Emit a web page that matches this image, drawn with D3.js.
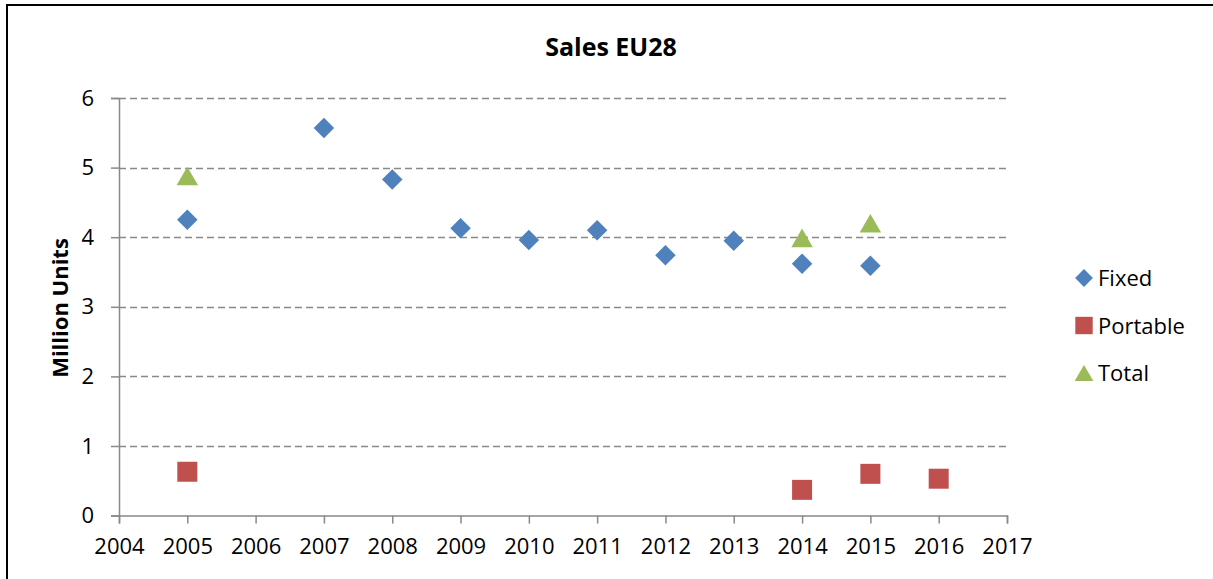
<!DOCTYPE html>
<html>
<head>
<meta charset="utf-8">
<script src="https://cdn.jsdelivr.net/npm/d3@7"></script>
<style>
  html, body { margin: 0; padding: 0; background: #fff; }
  svg { display: block; font-family: "Open Sans", "Liberation Sans", sans-serif; }
</style>
</head>
<body>
<svg id="chart" width="1213" height="579"></svg>
<script>
// ---- data ----
const fixedYears   = [2005, 2007, 2008, 2009, 2010, 2011, 2012, 2013, 2014, 2015];
const fixedValues  = [4.25, 5.57, 4.83, 4.13, 3.96, 4.10, 3.74, 3.95, 3.62, 3.59];
const portableYears  = [2005, 2014, 2015, 2016];
const portableValues = [0.63, 0.37, 0.60, 0.53];
const totalYears   = [2005, 2014, 2015];
const totalValues  = [4.88, 3.99, 4.20];
const xTicks = [2004, 2005, 2006, 2007, 2008, 2009, 2010, 2011, 2012, 2013, 2014, 2015, 2016, 2017];
const yTicks = [0, 1, 2, 3, 4, 5, 6];
const seriesNames = ["Fixed", "Portable", "Total"];
const title = "Sales EU28";
const yTitle = "Million Units";

const colors = { Fixed: "#4F81BD", Portable: "#C0504D", Total: "#9BBB59" };

const svg = d3.select("#chart");

// frame
svg.append("line").attr("x1", 6).attr("x2", 1213).attr("y1", 5).attr("y2", 5)
  .attr("stroke", "#000").attr("stroke-width", 2);
svg.append("line").attr("x1", 7).attr("x2", 7).attr("y1", 4).attr("y2", 579)
  .attr("stroke", "#000").attr("stroke-width", 2);

const x = d3.scaleLinear().domain([2004, 2017]).range([119, 1007]);
const y = d3.scaleLinear().domain([0, 6]).range([515.6, 98]);

// gridlines
svg.append("g").selectAll("line").data(yTicks.filter(d => d > 0)).join("line")
  .attr("x1", x(2004)).attr("x2", x(2017))
  .attr("y1", d => Math.round(y(d)) + 0.5).attr("y2", d => Math.round(y(d)) + 0.5)
  .attr("stroke", "#898989").attr("stroke-width", 1.5).attr("stroke-dasharray", "7,4");

// y axis
const yAxis = svg.append("g").attr("transform", `translate(${x(2004)},0)`)
  .call(d3.axisLeft(y).tickValues(yTicks).tickSize(8).tickPadding(17).tickFormat(d3.format("d")));
yAxis.attr("font-size", null).attr("font-family", null);
yAxis.select(".domain").attr("stroke", "#898989").attr("stroke-width", 1.5);
yAxis.selectAll(".tick line").attr("stroke", "#898989").attr("stroke-width", 1.5);
yAxis.selectAll(".tick text").style("font-size", "22px").attr("fill", "#000")
  .style("font-family", "'Open Sans', sans-serif");

// x axis
const xAxis = svg.append("g").attr("transform", `translate(0,${y(0)})`)
  .call(d3.axisBottom(x).tickValues(xTicks).tickSize(8).tickPadding(15).tickFormat(d3.format("d")));
xAxis.attr("font-size", null).attr("font-family", null);
xAxis.select(".domain").attr("stroke", "#898989").attr("stroke-width", 1.5);
xAxis.selectAll(".tick line").attr("stroke", "#898989").attr("stroke-width", 1.5);
xAxis.selectAll(".tick text").style("font-size", "22px").attr("fill", "#000")
  .style("font-family", "'Open Sans', sans-serif");

// title
svg.append("text").attr("x", 611).attr("y", 56).attr("text-anchor", "middle")
  .style("font-size", "25px").attr("font-weight", "bold").text(title);

// y title
svg.append("text").attr("transform", "translate(68,308) rotate(-90)")
  .attr("text-anchor", "middle").style("font-size", "22px").attr("font-weight", "bold").text(yTitle);

// marker generators
function marker(name, scale) {
  if (name === "Fixed") {
    const s = 14.5 * scale; // side of rotated square
    return { d: d3.symbol().type(d3.symbolSquare).size(s * s)(), rot: 45, dy: 0 };
  }
  if (name === "Portable") {
    const s = 20 * scale;
    return { d: d3.symbol().type(d3.symbolSquare).size(s * s)(), rot: 0, dy: 0 };
  }
  const w = 21.5 * scale;
  const h = w * Math.sqrt(3) / 2;
  return { d: d3.symbol().type(d3.symbolTriangle).size(w * h / 2)(), rot: 0, dy: h / 6 };
}

function drawSeries(name, years, values) {
  const data = years.map((yr, i) => ({ x: yr, y: values[i] }));
  const m = marker(name, 1);
  svg.append("g").selectAll("path").data(data).join("path")
    .attr("d", m.d)
    .attr("transform", d => `translate(${x(d.x)},${y(d.y) + m.dy}) rotate(${m.rot})`)
    .attr("fill", colors[name]);
}
drawSeries("Fixed", fixedYears, fixedValues);
drawSeries("Portable", portableYears, portableValues);
drawSeries("Total", totalYears, totalValues);

// legend
const legend = svg.append("g");
seriesNames.forEach((name, i) => {
  const ly = 278 + i * 47.5;
  const m = marker(name, 0.87);
  legend.append("path").attr("d", m.d)
    .attr("transform", `translate(1084,${ly + m.dy}) rotate(${m.rot})`).attr("fill", colors[name]);
  legend.append("text").attr("x", 1098).attr("y", ly + 8).style("font-size", "22px").text(name);
});
</script>
</body>
</html>
